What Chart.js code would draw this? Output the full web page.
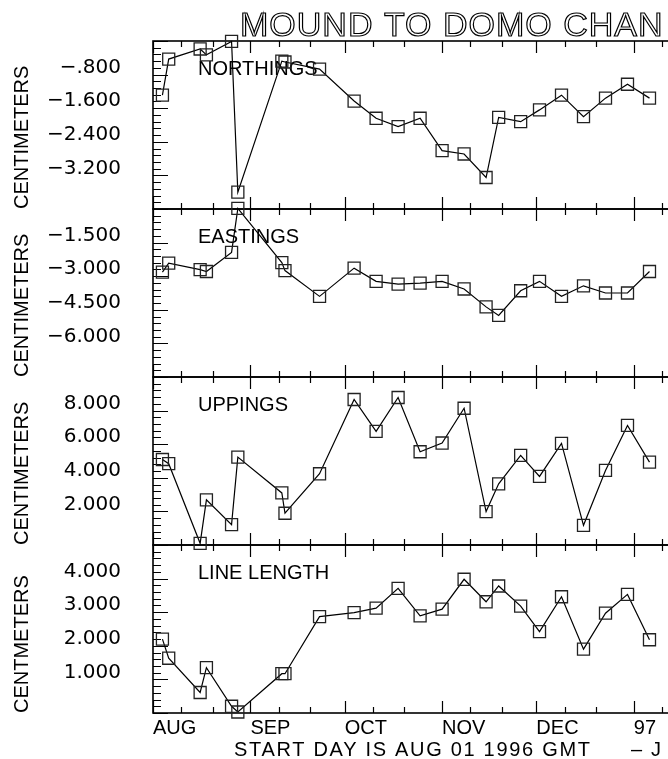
<!DOCTYPE html>
<html>
<script src="https://cdn.jsdelivr.net/npm/chart.js"></script>
<style type="text/css">
  html, body { margin: 0; padding: 0; overflow: hidden; background: #fff; }
  .chartBox { width: 697px; height: 759px; }
</style>
<body>
  <div class="chartBox">
    <canvas id="myChart"></canvas>
  </div>

  <script>
    // days since AUG 01 1996
    const days = [3, 5, 15, 17, 25, 27, 41, 42, 53, 64, 71, 78, 85, 92, 99, 106, 110, 117, 123, 130, 137, 144, 151, 158];

    const northings = [-1.29, -0.43, -0.19, -0.33, -0.01, -3.60, -0.48, -0.50, -0.67, -1.43, -1.84, -2.04,
                       -1.84, -2.61, -2.69, -3.25, -1.82, -1.92, -1.64, -1.29, -1.80, -1.36, -1.03, -1.36];
    const eastings = [-2.82, -2.42, -2.71, -2.79, -1.94, 0.03, -2.39, -2.75, -3.90, -2.64, -3.23, -3.35,
                      -3.31, -3.23, -3.57, -4.37, -4.75, -3.65, -3.23, -3.90, -3.43, -3.75, -3.75, -2.79];
    const uppings = [5.09, 4.84, 0.10, 2.69, 1.21, 5.23, 3.10, 1.89, 4.24, 8.66, 6.76, 8.78,
                     5.55, 6.07, 8.14, 1.99, 3.64, 5.33, 4.08, 6.05, 1.17, 4.44, 7.12, 4.93];
    const lineLength = [2.20, 1.63, 0.61, 1.35, 0.20, 0.03, 1.17, 1.17, 2.87, 2.99, 3.12, 3.71,
                        2.89, 3.09, 3.98, 3.31, 3.78, 3.18, 2.42, 3.46, 1.90, 2.97, 3.53, 2.18];

    const monthDays = [0, 31, 61, 92, 122, 153];
    const monthLabels = ['AUG', 'SEP', 'OCT', 'NOV', 'DEC', '97'];
    const minorDays = [9, 19, 40, 50, 70, 80, 101, 111, 131, 141, 162];

    const panelNames = ['NORTHINGS', 'EASTINGS', 'UPPINGS', 'LINE LENGTH'];
    const axisTitles = ['CENTIMETERS', 'CENTIMETERS', 'CENTIMETERS', 'CENTMETERS'];
    // [min, max, step] for each panel
    const panelRanges = [[-4, 0, 0.8], [-7.5, 0, 1.5], [0, 10, 2], [0, 5, 1]];

    const series = [northings, eastings, uppings, lineLength];
    const yIds = ['yN', 'yE', 'yU', 'yL'];

    const FONT = '"Liberation Sans", Arial, sans-serif';
    const NUM_FONT = '"DejaVu Sans", sans-serif';
    Chart.defaults.font.family = FONT;
    Chart.defaults.color = '#000';

    function fmt(v) {
      let s = Math.abs(v).toFixed(3);
      if (s.startsWith('0.')) s = s.slice(1);
      return (v < 0 ? '\u2212' : '') + s;
    }

    function yScale(i) {
      const [min, max, step] = panelRanges[i];
      return {
        type: 'linear',
        position: 'left',
        stack: 'panels',
        stackWeight: 1,
        min: min,
        max: max,
        afterFit: (s) => { s.width = 153; },
        grid: { display: false },
        border: { display: false },
        ticks: {
          stepSize: step,
          autoSkip: false,
          labelOffset: -7,
          padding: 24,
          font: { family: NUM_FONT, size: 20 },
          callback: (v) => (Math.abs(v - min) < 1e-6 || Math.abs(v - max) < 1e-6) ? '' : fmt(v)
        },
        title: {
          display: true,
          text: axisTitles[i],
          align: 'start',
          font: { size: 20 },
          padding: { top: 10, bottom: 0 }
        }
      };
    }

    // panel frames, inward ticks and captions
    const frames = {
      id: 'frames',
      beforeDatasetsDraw(chart) {
        const ctx = chart.ctx;
        const x = chart.scales.x;
        const { left, right } = chart.chartArea;
        ctx.save();
        ctx.strokeStyle = '#000';
        yIds.forEach((id, i) => {
          const s = chart.scales[id];
          ctx.lineWidth = 1.6;
          ctx.strokeRect(left, s.top, right - left, s.bottom - s.top);

          ctx.lineWidth = 1.2;
          ctx.beginPath();
          const xTick = (d, len) => {
            const px = Math.round(x.getPixelForValue(d)) + 0.5;
            ctx.moveTo(px, s.top); ctx.lineTo(px, s.top + len);
            ctx.moveTo(px, s.bottom); ctx.lineTo(px, s.bottom - len);
          };
          monthDays.forEach(d => xTick(d, 12));
          minorDays.forEach(d => xTick(d, 6));

          const [min, max, step] = panelRanges[i];
          const n = Math.round((max - min) / step) * 5;
          for (let k = 0; k <= n; k++) {
            const py = Math.round(s.getPixelForValue(min + k * step / 5)) + 0.5;
            ctx.moveTo(left, py);
            ctx.lineTo(left + (k % 5 === 0 ? 15 : 8), py);
          }
          ctx.stroke();

          ctx.fillStyle = '#000';
          ctx.font = '20px ' + FONT;
          ctx.textBaseline = 'alphabetic';
          ctx.fillText(panelNames[i], left + 45, s.top + 34);
        });
        ctx.restore();
      },
      afterDraw(chart) {
        const ctx = chart.ctx;
        ctx.save();
        ctx.strokeStyle = '#000';
        ctx.lineWidth = 1.2;
        ctx.font = '34px ' + FONT;
        ctx.letterSpacing = '1px';
        ctx.strokeText('MOUND TO DOMO CHAN', 240, 36);

        ctx.fillStyle = '#000';
        ctx.font = '20px ' + FONT;
        ctx.letterSpacing = '1.7px';
        ctx.fillText('START DAY IS AUG 01 1996 GMT', 234, 756);
        ctx.fillText('\u2013 J', 631, 756);
        ctx.restore();
      }
    };

    const scales = {
      x: {
        type: 'linear',
        min: 0,
        max: 170,
        afterBuildTicks: (s) => { s.ticks = monthDays.map(v => ({ value: v })); },
        afterFit: (s) => { s.height = 46; },
        grid: { display: false },
        border: { display: false },
        ticks: {
          align: 'start',
          padding: -5,
          autoSkip: false,
          maxRotation: 0,
          font: { size: 20 },
          callback: (v, i) => monthLabels[i]
        }
      }
    };
    // stacked axes are laid out bottom-up, so add the lowest panel first
    for (let i = yIds.length - 1; i >= 0; i--) {
      scales[yIds[i]] = yScale(i);
    }

    var ctx = document.getElementById('myChart').getContext('2d');
    var myChart = new Chart(ctx, {
      type: 'line',
      data: {
        datasets: series.map((vals, i) => ({
          label: panelNames[i],
          data: days.map((d, k) => ({ x: d, y: vals[k] })),
          yAxisID: yIds[i],
          borderColor: '#000',
          borderWidth: 1.2,
          pointStyle: 'rect',
          pointRadius: 8.5,
          pointBorderColor: '#222',
          pointBorderWidth: 1.3,
          pointBackgroundColor: 'transparent',
          clip: false,
          tension: 0
        }))
      },
      options: {
        responsive: true,
        maintainAspectRatio: false,
        animation: false,
        layout: { padding: { top: 41, left: 0, right: 0, bottom: 0 } },
        plugins: {
          legend: false,
          tooltip: { enabled: false }
        },
        scales: scales
      },
      plugins: [frames]
    });
  </script>

</body>
</html>
